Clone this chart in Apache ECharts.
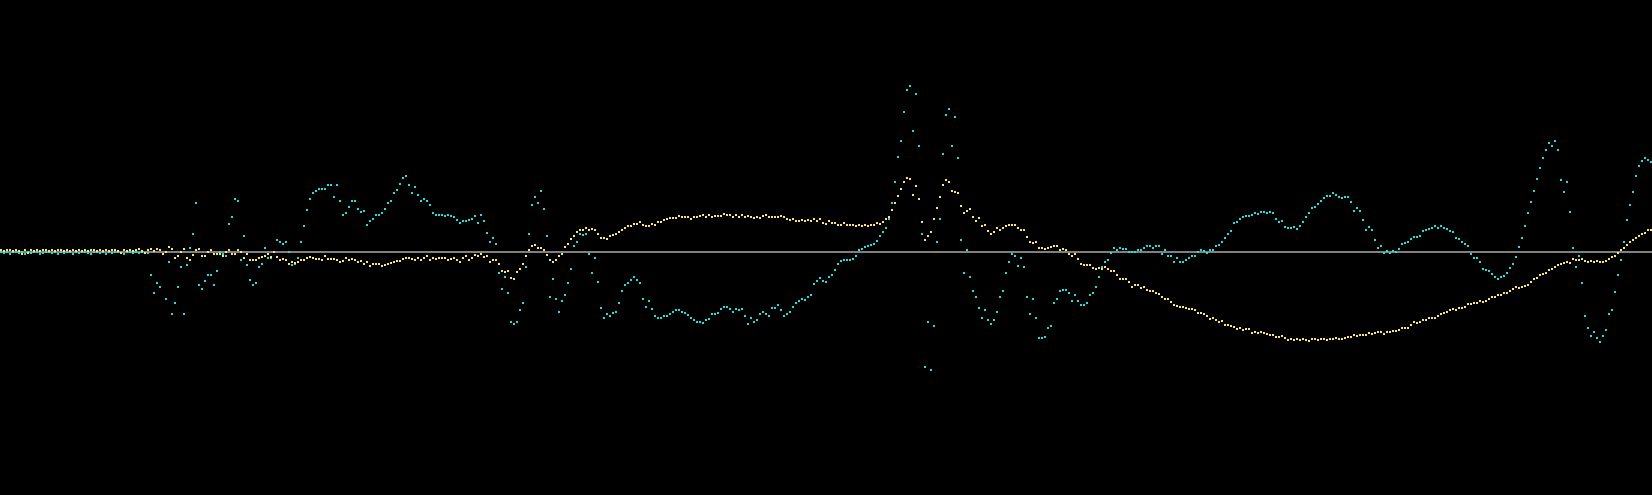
<!DOCTYPE html>
<html><head><meta charset="utf-8">
<script src="https://cdn.jsdelivr.net/npm/echarts@6.0.0/dist/echarts.min.js"></script>
<style>html,body{margin:0;padding:0;background:#000;overflow:hidden;}#chart{width:1652px;height:495px;}</style>
</head><body><div id="chart"></div>
<script>
// sample index 0..550 (evenly spaced along the trace); values in display amplitude units, 0 = reference line
const yellow = [
2,1,2,2,1,2,1,-2,2,-1,
2,1,2,1,2,2,1,2,1,2,
2,1,2,1,2,1,2,1,2,1,
2,2,1,2,1,2,1,2,2,1,
-1,2,1,2,1,2,3,1,-1,2,
3,1,3,2,-2,0,5,3,-6,-4,
0,3,-6,-8,-3,2,3,-4,-4,0,
2,-2,-2,-2,-4,0,2,-2,-2,2,
0,-6,-2,-8,-8,-8,-6,-5,-4,-2,
-5,0,-5,-8,-7,-8,-12,-10,-11,-10,
-8,-8,-6,-5,-6,-7,-7,-8,-4,-7,
-7,-7,-8,-10,-9,-6,-8,-7,-8,-10,
-9,-12,-10,-14,-12,-12,-12,-14,-13,-12,
-11,-10,-9,-9,-7,-6,-6,-7,-8,-6,
-8,-6,-4,-8,-6,-7,-6,-6,-6,-8,
-7,-6,-8,-10,-6,-4,-8,-6,-3,-4,
-2,-5,-4,-10,-8,-8,-12,-19,-20,-19,
-26,-27,-20,-17,-12,-4,2,6,7,4,
4,2,-3,-8,-10,-8,-4,-2,5,8,
13,16,20,22,22,24,22,23,22,18,
14,14,13,16,17,18,20,22,24,26,
26,28,28,30,27,26,26,28,27,30,
30,32,33,34,34,34,36,35,35,35,
33,35,35,36,37,35,37,35,36,36,
36,38,37,37,35,37,35,37,35,36,
35,34,35,34,36,37,35,35,35,35,
36,35,33,32,33,31,31,32,31,32,
31,33,31,33,29,28,31,29,29,27,
27,29,27,27,27,26,27,26,27,26,
27,27,29,28,30,33,35,42,49,56,
63,70,74,73,57,66,53,30,12,16,
20,33,44,55,67,72,70,61,60,59,
46,39,41,43,35,31,34,26,27,21,
18,20,24,22,24,26,27,27,27,24,
22,22,15,10,9,10,4,4,3,4,
5,6,6,2,3,2,-2,-4,-2,-7,
-12,-13,-13,-13,-16,-17,-16,-17,-15,-17,
-19,-19,-23,-27,-27,-27,-30,-35,-33,-33,
-36,-35,-38,-39,-39,-41,-42,-45,-47,-47,
-50,-53,-54,-55,-55,-56,-57,-57,-58,-61,
-61,-62,-64,-67,-66,-68,-70,-69,-73,-73,
-74,-75,-77,-76,-78,-77,-77,-81,-80,-81,
-80,-81,-82,-83,-83,-85,-85,-84,-86,-88,
-87,-88,-87,-88,-87,-88,-89,-87,-87,-88,
-87,-87,-88,-87,-87,-86,-87,-87,-86,-85,
-85,-83,-84,-83,-83,-83,-81,-82,-81,-80,
-80,-82,-80,-80,-79,-79,-78,-76,-76,-76,
-73,-70,-71,-70,-68,-68,-66,-66,-66,-64,
-62,-61,-60,-58,-57,-58,-56,-56,-55,-52,
-52,-51,-51,-49,-50,-49,-47,-45,-45,-43,
-43,-41,-41,-39,-37,-35,-36,-35,-34,-33,
-30,-27,-26,-23,-22,-21,-18,-17,-15,-13,
-12,-11,-10,-11,-7,-8,-8,-7,-9,-10,
-9,-10,-9,-10,-10,-9,-7,-5,-4,-1,
2,4,7,10,12,14,16,18,19,22,22
];
const cyan = [
0,-1,0,-2,0,0,-1,0,-2,0,
-1,0,0,-2,-1,0,0,-1,0,-2,
0,-1,0,0,-2,0,-1,0,0,-1,
-2,0,0,-1,0,-2,0,-1,0,0,
-1,-2,0,0,-1,0,-1,0,-1,-1,
-23,-41,-31,-35,-2,-47,-10,-62,-51,-35,
-15,-62,-13,4,18,49,-33,-37,-29,-23,
-23,-33,-19,0,-2,-4,28,35,53,51,
-8,16,-13,-28,-33,-31,-15,-12,4,-6,
-6,0,12,10,8,10,0,-13,-12,-6,
10,26,42,53,59,61,63,63,63,67,
67,55,67,51,37,39,45,51,51,43,
40,41,27,31,33,37,37,39,43,49,
51,59,62,68,74,76,67,59,65,57,
51,53,51,47,39,37,37,37,36,37,
36,35,32,29,31,31,32,33,36,29,
37,31,19,10,14,8,-21,-37,-25,-41,
-70,-72,-70,-58,-51,-15,18,47,55,49,
61,43,16,-45,-27,-47,-60,-49,-43,-31,
-17,6,10,18,17,18,-2,-21,-6,-30,
-56,-66,-62,-64,-61,-60,-51,-39,-33,-31,
-28,-25,-28,-31,-47,-55,-49,-57,-64,-66,
-66,-64,-64,-62,-60,-58,-58,-60,-61,-63,
-66,-68,-70,-70,-71,-68,-67,-62,-62,-61,
-57,-55,-55,-57,-60,-57,-58,-57,-64,-72,
-66,-70,-68,-62,-60,-62,-64,-56,-56,-53,
-58,-64,-62,-60,-55,-51,-49,-47,-48,-45,
-43,-32,-29,-26,-29,-30,-25,-23,-18,-12,
-9,-8,-8,-8,-7,-4,2,3,5,6,
7,8,11,16,20,24,33,49,70,95,
111,140,162,166,121,158,106,18,-115,-70,
-118,-74,10,33,98,137,143,106,135,94,
12,-21,2,-25,-39,-45,-56,-66,-58,-68,
-72,-68,-60,-45,-39,-21,-10,-2,-4,-14,
-6,-15,-45,-62,-47,-66,-86,-86,-85,-76,
-74,-51,-47,-39,-38,-38,-41,-49,-43,-49,
-53,-53,-51,-43,-41,-35,-25,-15,-10,-8,
-1,4,2,4,3,3,0,0,0,2,
2,4,6,6,4,6,6,-2,2,-4,
-4,-10,-6,-10,-10,-8,-6,-4,-4,0,
2,1,-1,2,2,6,7,10,14,18,
21,29,30,33,35,36,36,37,39,38,
40,40,39,40,39,33,30,31,25,24,
24,25,23,26,30,35,39,44,45,48,
51,54,56,56,59,57,55,54,55,55,
50,41,44,41,32,22,25,22,12,4,
6,-1,1,-1,1,0,3,8,9,10,
13,15,15,16,21,22,23,24,26,24,
26,24,23,21,20,14,13,10,8,6,
-2,-6,-6,-10,-17,-18,-19,-22,-25,-27,
-25,-24,-21,-16,-12,-5,5,14,26,39,
50,61,73,84,94,102,109,106,111,102,
72,60,70,40,4,-15,-4,-31,-64,-76,
-84,-80,-86,-90,-84,-78,-62,-58,-40,-23,
-8,10,32,47,60,76,86,91,94,92,90
];
const yRange = [-243, 252];

const chart = echarts.init(document.getElementById('chart'), null, {renderer: 'canvas'});
const toPairs = arr => arr.map((v, i) => [i, v]);
chart.setOption({
  backgroundColor: '#000000',
  animation: false,
  grid: {left: 0, right: 0, top: 0, bottom: 0, containLabel: false},
  xAxis: {
    type: 'value', min: -1/3, max: (cyan.length - 1) + 1/3,
    axisLine: {show: true, onZero: true, lineStyle: {color: '#808080', width: 2}},
    axisTick: {show: false}, axisLabel: {show: false}, splitLine: {show: false}
  },
  yAxis: {
    type: 'value', min: yRange[0], max: yRange[1],
    axisLine: {show: false}, axisTick: {show: false}, axisLabel: {show: false}, splitLine: {show: false}
  },
  series: [
    {type: 'scatter', symbol: 'rect', symbolSize: 2, silent: true,
     itemStyle: {color: '#1ee0e0', opacity: 1}, data: toPairs(cyan)},
    {type: 'scatter', symbol: 'rect', symbolSize: 2, silent: true,
     itemStyle: {color: '#fde66d', opacity: 1}, data: toPairs(yellow)}
  ]
});
</script>
</body></html>
